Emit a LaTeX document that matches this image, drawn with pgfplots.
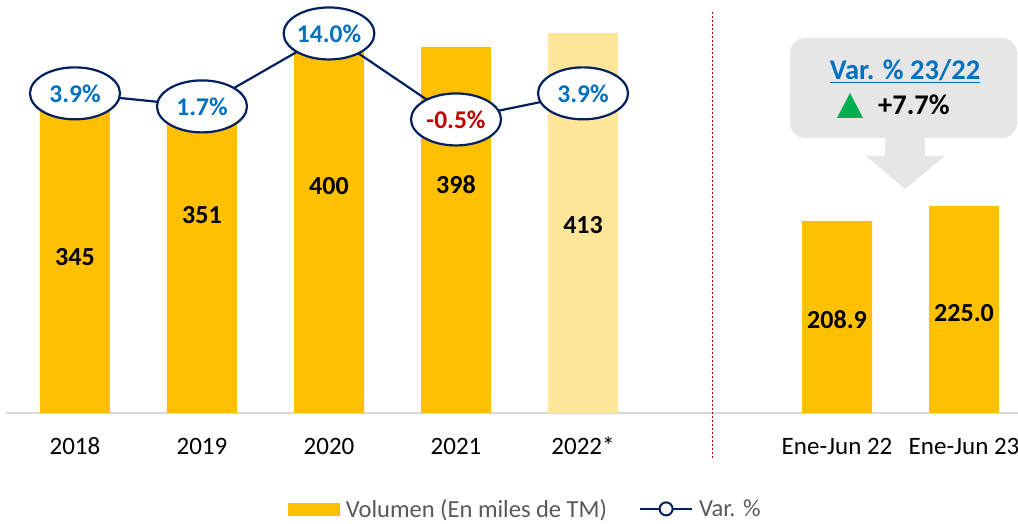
\documentclass[border=0pt]{standalone}
\usepackage{pgfplots}
\pgfplotsset{compat=1.18}
\usepackage{fontspec}
\setmainfont{Carlito}
\usetikzlibrary{shapes.geometric}
\definecolor{barO}{HTML}{FFC000}
\definecolor{barL}{HTML}{FFE699}
\definecolor{navy}{HTML}{002060}
\definecolor{vblue}{HTML}{0070C0}
\definecolor{vred}{HTML}{C00000}
\definecolor{axgray}{HTML}{D9D9D9}
\definecolor{txtgray}{HTML}{595959}
\definecolor{callgray}{HTML}{E7E6E6}
\definecolor{upgreen}{HTML}{00B050}
\begin{document}
\begin{tikzpicture}[x=1pt,y=1pt]
\useasboundingbox (-6,-111) rectangle (1012,413);
\begin{axis}[
  scale only axis, width=1012pt, height=408pt,
  at={(0,0)}, anchor=south west,
  xmin=-0.543, xmax=7.425, ymin=0, ymax=443.5,
  axis x line*=bottom, axis y line=none,
  x axis line style={draw=axgray, line width=1.5pt, -},
  xtick={0,1,2,3,4,6,7},
  xticklabels={2018,2019,2020,2021,2022*,Ene-Jun 22,Ene-Jun 23},
  major tick length=0pt,
  xticklabel style={font=\fontsize{25}{29}\selectfont, anchor=base, yshift=-42pt, text=black},
  clip=false,
  legend columns=2,
  legend style={draw=none, fill=none, at={(0.513,-0.235)}, anchor=center,
    font=\fontsize{24.5}{28}\selectfont, text=txtgray,
    /tikz/every odd column/.append style={column sep=4pt},
    /tikz/every even column/.append style={column sep=30pt}},
]
\addplot[ybar, bar width=70pt, fill=barO, draw=none,
  legend image code/.code={\fill[barO] (0pt,-7pt) rectangle (52pt,6pt);}]
  coordinates {(0,345) (1,351) (2,400) (3,398) (6,208.9) (7,225.0)};
\addlegendentry{Volumen (En miles de TM)}
\addplot[ybar, bar width=70pt, fill=barL, draw=none, forget plot]
  coordinates {(4,413)};
\addlegendimage{legend image code/.code={\draw[navy,line width=2pt](0pt,0pt)--(52pt,0pt); \draw[navy,fill=white,line width=2pt](26pt,0pt) circle (6.5pt);}}
\addlegendentry{Var. \%}
\begin{scope}[every node/.style={font=\bfseries\fontsize{26}{30}\selectfont, text=black}]
\node at (axis cs:0,170) {345};
\node at (axis cs:1,215) {351};
\node at (axis cs:2,247) {400};
\node at (axis cs:3,248) {398};
\node at (axis cs:4,204) {413};
\node at (axis cs:6,101) {208.9};
\node at (axis cs:7,109) {225.0};
\end{scope}
\draw[vred, line width=1.3pt, dash pattern=on 2.5pt off 1.5pt] (axis cs:5.02,436) -- (axis cs:5.02,-49);
\end{axis}
\begin{axis}[
  scale only axis, width=1012pt, height=408pt,
  at={(0,0)}, anchor=south west,
  xmin=-0.543, xmax=7.425, ymin=-50, ymax=18.8,
  hide axis, clip=false,
]
\addplot[navy, line width=2.2pt, mark=none, nodes near coords, point meta=explicit symbolic,
  every node near coord/.append style={ellipse, draw=navy, line width=2.2pt, fill=white,
    minimum width=90pt, minimum height=52pt, anchor=center, inner sep=0pt,
    font=\bfseries\fontsize{25.5}{29}\selectfont, text=vblue}]
  coordinates {(0,3.9) [3.9\%] (1,1.7) [1.7\%] (2,14.0) [14.0\%] (3,-0.5) [\textcolor{vred}{-0.5\%}] (4,3.9) [3.9\%]};
\end{axis}
% callout
\fill[callgray, rounded corners=15pt] (784,275) rectangle (1011,375);
\fill[callgray] (879,276) -- (879,257) -- (860,257) -- (899,224) -- (939,257) -- (919,257) -- (919,276) -- cycle;
\node[anchor=base, text=vblue, font=\bfseries\fontsize{28.5}{32}\selectfont, inner sep=0pt] at (899,333) {\underline{Var. \% 23/22}};
\fill[upgreen] (831,295) -- (857,295) -- (844,320) -- cycle;
\node[anchor=base west, inner sep=0pt, font=\bfseries\fontsize{28.5}{32}\selectfont] at (872,298) {+7.7\%};
\end{tikzpicture}
\end{document}
